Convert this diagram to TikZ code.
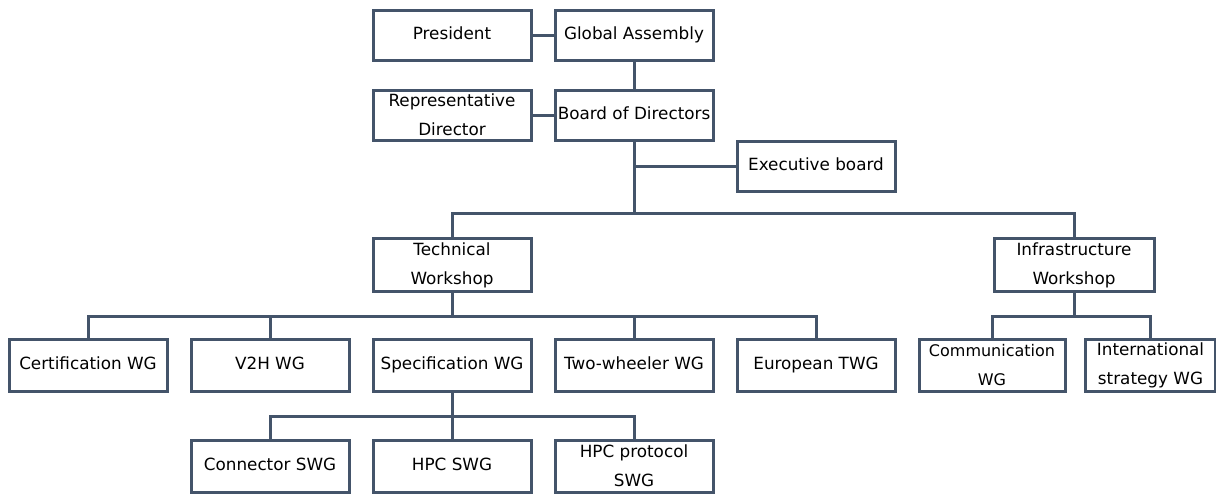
\documentclass[tikz,border=0pt]{standalone}
\usepackage{fontspec}
\setmainfont{DejaVu Sans}
\usetikzlibrary{positioning}
\definecolor{orgline}{HTML}{44546A}

\begin{document}
\begin{tikzpicture}[x=0.75pt, y=-0.75pt,
  orgbox/.style={draw=orgline, line width=2.25pt, fill=white, minimum width=118.5pt,
                 minimum height=38pt, inner sep=0pt, outer sep=0pt, align=center,
                 font=\fontsize{12.6}{21.75}\selectfont},
  oneline/.style={text height=9.2pt, text depth=2.6pt},
  link/.style={draw=orgline, line width=2.25pt},
  node distance=18pt]
  \fill[white] (0,0) rectangle (1216,493);
  \useasboundingbox (0,0) rectangle (1216,493);

  % top of the organisation
  \node[orgbox, oneline, minimum height=37.5pt] (pres) at (452,35) {President};
  \node[orgbox, oneline, minimum height=37.5pt, right=of pres] (ga) {Global Assembly};
  \node[orgbox, minimum height=37.5pt] (rep) at (452,115) {Representative\\ Director};
  \node[orgbox, oneline, minimum height=37.5pt, right=of rep] (bod) {Board of Directors};
  \node[orgbox, oneline, minimum height=37.5pt] (exec) at (816,166) {Executive board};

  % workshops
  \node[orgbox, minimum height=39.5pt] (tw) at (452,265) {Technical\\ Workshop};
  \node[orgbox, minimum height=39.5pt, minimum width=120pt] (infra) at (1074,265) {Infrastructure\\ Workshop};

  % working groups
  \node[orgbox, oneline, minimum height=39.5pt] (cert) at (88,365.5) {Certification WG};
  \node[orgbox, oneline, minimum height=39.5pt, right=of cert] (v2h) {V2H WG};
  \node[orgbox, oneline, minimum height=39.5pt, right=of v2h] (spec) {Specification WG};
  \node[orgbox, oneline, minimum height=39.5pt, right=of spec] (two) {Two-wheeler WG};
  \node[orgbox, oneline, minimum height=39.5pt, right=of two] (euro) {European TWG};
  \node[orgbox, minimum height=39.5pt, minimum width=109.5pt,
        font=\fontsize{12}{21.75}\selectfont] (comm) at (992,365.5) {Communication\\ WG};
  \node[orgbox, minimum height=39.5pt, minimum width=98pt] (intl) at (1150.5,365.5) {International\\ strategy WG};

  % sub working groups
  \node[orgbox, oneline, minimum height=39pt] (conn) at (270,466) {Connector SWG};
  \node[orgbox, oneline, minimum height=39pt, right=of conn] (hpc) {HPC SWG};
  \node[orgbox, minimum height=39pt, right=of hpc] (hpcp) {HPC protocol\\ SWG};

  \coordinate (j1) at (634,213);
  \coordinate (j2) at (452,316);
  \coordinate (j3) at (452,416);
  \coordinate (j4) at (1074,316);

  \draw[link] (pres) -- (ga);
  \draw[link] (rep) -- (bod);
  \draw[link] (ga) -- (bod);
  \draw[link] (bod.south) -- (j1);
  \draw[link] (bod.south |- exec.west) -- (exec.west);
  \draw[link] (tw.north) |- (j1) -| (infra.north);
  \draw[link] (tw.south) -- (j2);
  \draw[link] (cert.north) |- (j2) -| (euro.north);
  \foreach \n in {v2h,two}
    \draw[link] (\n.north) -- (\n.north |- j2);
  \draw[link] (spec.south) -- (j3);
  \draw[link] (conn.north) |- (j3) -| (hpcp.north);
  \draw[link] (hpc.north) -- (j3);
  \draw[link] (infra.south) -- (j4);
  \draw[link] (comm.north) |- (j4) -| (intl.north);
\end{tikzpicture}
\end{document}
